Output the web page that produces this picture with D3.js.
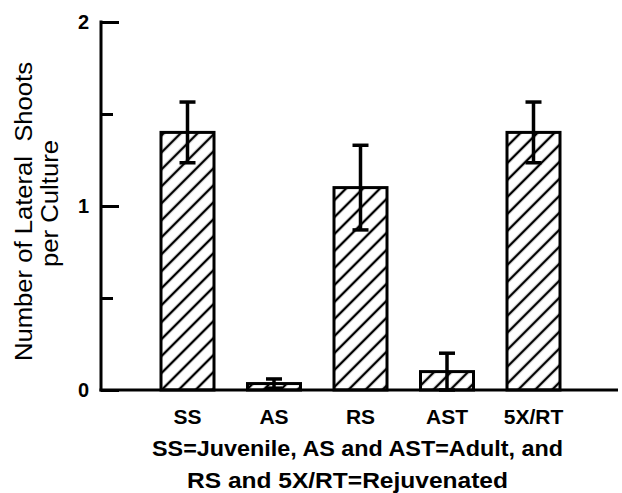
<!DOCTYPE html>
<html>
<head>
<meta charset="utf-8">
<script src="https://cdn.jsdelivr.net/npm/d3@7"></script>
<style>
  body { margin: 0; background: #fff; }
  svg { display: block; }
  text { font-family: "Liberation Sans", Arial, Helvetica, sans-serif; fill: #000; }
</style>
</head>
<body>
<div id="chart"></div>
<script>
  // Data
  var categories = ["SS", "AS", "RS", "AST", "5X/RT"];
  var means = [1.40, 0.035, 1.10, 0.10, 1.40];
  var errors = [0.165, 0.025, 0.23, 0.10, 0.165];
  var yTicks = [0, 1, 2];
  var yMinorTicks = [0.5, 1.5];
  var yLabelLines = ["Number of Lateral  Shoots", "per Culture"];
  var xLabelLines = ["SS=Juvenile, AS and AST=Adult, and", "RS and 5X/RT=Rejuvenated"];

  var width = 622, height = 493;
  var axisX = 101, axisRight = 618;
  var barWidth = 53;

  var svg = d3.select("#chart").append("svg")
              .attr("width", width)
              .attr("height", height);

  // Hatch pattern ("/" lines)
  var defs = svg.append("defs");
  defs.append("pattern")
      .attr("id", "hatch")
      .attr("patternUnits", "userSpaceOnUse")
      .attr("width", 12)
      .attr("height", 12)
      .attr("patternTransform", "rotate(45)")
    .append("line")
      .attr("x1", 6).attr("y1", 0)
      .attr("x2", 6).attr("y2", 12)
      .attr("stroke", "#000")
      .attr("stroke-width", 2.4);

  // Scales
  var x = d3.scalePoint()
            .domain(categories)
            .range([187.5, 533.5]);

  var y = d3.scaleLinear()
            .domain([0, 2])
            .range([390, 22]);

  // Bars
  svg.selectAll("rect.bar")
     .data(categories)
     .enter()
     .append("rect")
     .attr("class", "bar")
     .attr("x", function(d) { return x(d) - barWidth / 2; })
     .attr("y", function(d, i) { return y(means[i]); })
     .attr("width", barWidth)
     .attr("height", function(d, i) { return y(0) - y(means[i]); })
     .attr("fill", "url(#hatch)")
     .attr("stroke", "#000")
     .attr("stroke-width", 3);

  // Error bars
  var err = svg.append("g").attr("stroke", "#000");
  categories.forEach(function(c, i) {
    var cx = x(c);
    var top = y(means[i] + errors[i]);
    var bot = y(Math.max(0, means[i] - errors[i]));
    err.append("line")
       .attr("x1", cx).attr("x2", cx)
       .attr("y1", top).attr("y2", bot)
       .attr("stroke-width", 3.5);
    [top, bot].forEach(function(yy) {
      err.append("line")
         .attr("x1", cx - 8).attr("x2", cx + 8)
         .attr("y1", yy).attr("y2", yy)
         .attr("stroke-width", 3.5);
    });
  });

  // Y axis (ticks point inward to the right)
  var yAxis = d3.axisRight(y)
                .tickValues(yTicks)
                .tickSize(18)
                .tickFormat("");
  var gy = svg.append("g")
              .attr("transform", "translate(" + axisX + ",0)")
              .call(yAxis);
  gy.select(".domain").remove();
  gy.selectAll(".tick line").attr("stroke-width", 3);

  var yMinor = d3.axisRight(y)
                 .tickValues(yMinorTicks)
                 .tickSize(12)
                 .tickFormat("");
  var gym = svg.append("g")
               .attr("transform", "translate(" + axisX + ",0)")
               .call(yMinor);
  gym.select(".domain").remove();
  gym.selectAll(".tick line").attr("stroke-width", 3);

  svg.append("line")
     .attr("x1", axisX).attr("x2", axisX)
     .attr("y1", y(2) - 1.5).attr("y2", y(0) + 1.5)
     .attr("stroke", "#000")
     .attr("stroke-width", 3);

  // Y tick labels
  svg.selectAll("text.ytick")
     .data(yTicks)
     .enter()
     .append("text")
     .attr("class", "ytick")
     .attr("x", 89)
     .attr("y", function(d) { return y(d); })
     .attr("dy", "0.36em")
     .attr("text-anchor", "end")
     .style("font-size", "20px")
     .style("font-weight", "bold")
     .text(function(d) { return d; });

  // X axis baseline
  svg.append("line")
     .attr("x1", axisX - 1.5).attr("x2", axisRight)
     .attr("y1", y(0)).attr("y2", y(0))
     .attr("stroke", "#000")
     .attr("stroke-width", 3);

  // X category labels
  svg.selectAll("text.xtick")
     .data(categories)
     .enter()
     .append("text")
     .attr("class", "xtick")
     .attr("x", function(d) { return x(d); })
     .attr("y", 424)
     .attr("text-anchor", "middle")
     .style("font-size", "21px")
     .style("font-weight", "bold")
     .text(function(d) { return d; });

  // X axis title (two lines)
  var xLabelStart = [152, 187];
  var xLabelLength = [411, 321];
  var xLabelBase = [456, 488];
  xLabelLines.forEach(function(t, i) {
    svg.append("text")
       .attr("x", xLabelStart[i])
       .attr("y", xLabelBase[i])
       .attr("textLength", xLabelLength[i])
       .attr("lengthAdjust", "spacingAndGlyphs")
       .style("font-size", "22px")
       .style("font-weight", "bold")
       .text(t);
  });

  // Y axis title (two lines, rotated)
  var yLabelBase = [32, 58];
  var yLabelCenter = [211.5, 203.5];
  var yLabelLength = [299, 127];
  yLabelLines.forEach(function(t, i) {
    svg.append("text")
       .attr("transform", "translate(" + yLabelBase[i] + "," + yLabelCenter[i] + ") rotate(-90)")
       .attr("text-anchor", "middle")
       .attr("textLength", yLabelLength[i])
       .attr("lengthAdjust", "spacingAndGlyphs")
       .style("white-space", "pre")
       .style("font-size", "23px")
       .text(t);
  });
</script>
</body>
</html>
